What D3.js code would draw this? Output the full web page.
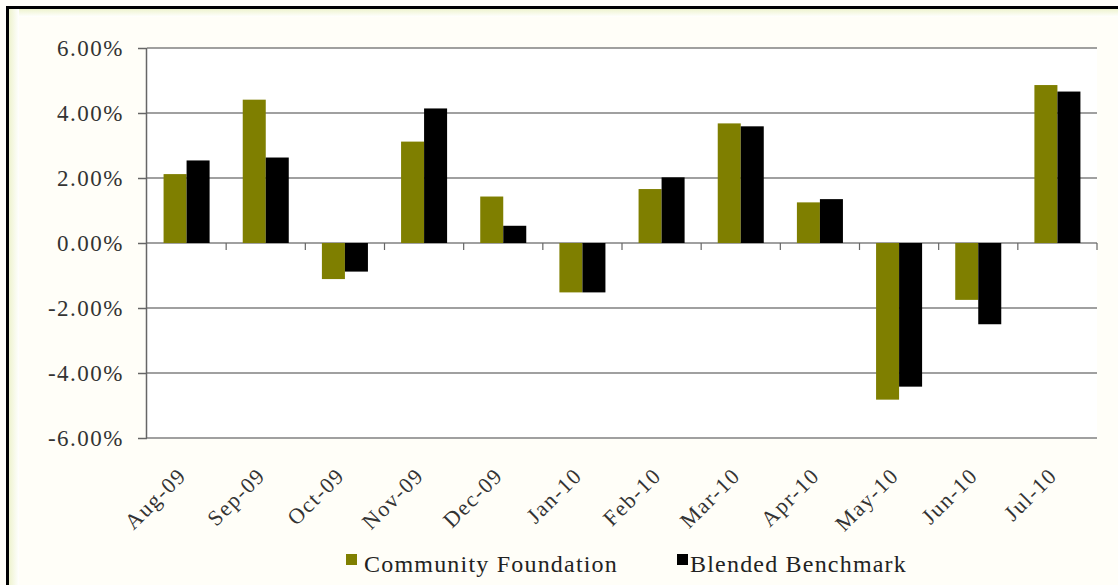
<!DOCTYPE html>
<html>
<head>
<meta charset="utf-8">
<script src="https://cdn.jsdelivr.net/npm/d3@7"></script>
<style>
  body { margin: 0; background: #ffffff; }
  svg { display: block; }
  .lbl { font-family: 'Liberation Serif', 'Times New Roman', serif; }
</style>
</head>
<body>
<div id="chart"></div>
<script>
const months = ["Aug-09", "Sep-09", "Oct-09", "Nov-09", "Dec-09", "Jan-10",
  "Feb-10", "Mar-10", "Apr-10", "May-10", "Jun-10", "Jul-10"];
const seriesNames = ["Community Foundation", "Blended Benchmark"];
const foundation = [2.12, 4.41, -1.11, 3.12, 1.43, -1.52, 1.66, 3.68, 1.25, -4.82, -1.75, 4.86];
const benchmark = [2.54, 2.63, -0.88, 4.14, 0.53, -1.52, 2.02, 3.59, 1.35, -4.42, -2.50, 4.66];
const yTicks = [-6, -4, -2, 0, 2, 4, 6];
const colors = ["#7f7f00", "#000000"];

const width = 1118, height = 585,
  margin = { top: 48, right: 21, bottom: 147, left: 147 };

const svg = d3.select("#chart").
  append("svg").
  attr("width", width).
  attr("height", height);

// frame: pale cream background, thick black edge on left and top
const defs = svg.append("defs");
const gl = defs.append("linearGradient").attr("id", "leftfade").
  attr("x1", "0%").attr("x2", "100%");
gl.append("stop").attr("offset", "0%").attr("stop-color", "#eef3cf");
gl.append("stop").attr("offset", "100%").attr("stop-color", "#ffffff");
const gt = defs.append("linearGradient").attr("id", "topfade").
  attr("x1", "0%").attr("x2", "0%").attr("y1", "0%").attr("y2", "100%");
gt.append("stop").attr("offset", "0%").attr("stop-color", "#eef3cf");
gt.append("stop").attr("offset", "100%").attr("stop-color", "#ffffff");

svg.append("rect").attr("width", width).attr("height", height).attr("fill", "#fffef8");
svg.append("rect").attr("x", 9).attr("y", 9).attr("width", width - 9).attr("height", 8).attr("fill", "url(#topfade)");
svg.append("rect").attr("x", 9).attr("y", 9).attr("width", 10).attr("height", height - 9).attr("fill", "url(#leftfade)");
svg.append("rect").attr("x", 6).attr("y", 6).attr("width", width - 6).attr("height", 3).attr("fill", "#000");
svg.append("rect").attr("x", 6).attr("y", 6).attr("width", 3).attr("height", height - 6).attr("fill", "#000");

const plotW = width - margin.left - margin.right,
  plotH = 438 - margin.top;

const g = svg.append("g").attr("transform", `translate(${margin.left},${margin.top})`);

g.append("rect").attr("x", 0).attr("y", 0).attr("width", plotW).attr("height", plotH + 1).attr("fill", "#ffffff");

const x0 = d3.scaleBand().domain(months).range([0, plotW]).padding(0);
const x1 = d3.scaleBand().domain(seriesNames).range([0, x0.bandwidth()]).paddingInner(0).paddingOuter(0.72);
const y = d3.scaleLinear().domain([-6, 6]).range([plotH, 0]);

// gridlines
g.append("g").selectAll("line").
  data(yTicks).
  enter().
  append("line").
  attr("x1", 0).
  attr("x2", plotW).
  attr("y1", d => y(d)).
  attr("y2", d => y(d)).
  attr("stroke", "#808080").
  attr("stroke-width", 1.5);

const rows = months.map((m, i) => ({ month: m, values: [foundation[i], benchmark[i]] }));

const groups = g.selectAll(".grp").
  data(rows).
  enter().
  append("g").
  attr("class", "grp").
  attr("transform", d => `translate(${x0(d.month)},0)`);

groups.selectAll("rect").
  data(d => d.values.map((v, k) => ({ key: seriesNames[k], v: v, k: k }))).
  enter().
  append("rect").
  attr("x", d => x1(d.key)).
  attr("width", x1.bandwidth()).
  attr("y", d => y(Math.max(0, d.v))).
  attr("height", d => Math.abs(y(d.v) - y(0))).
  attr("fill", d => colors[d.k]);

// y axis
const yAxis = g.append("g").
  call(d3.axisLeft(y).tickValues(yTicks).tickSize(9).tickPadding(14).
    tickFormat(d => d3.format(".2f")(d).replace("\u2212", "-") + "%"));
yAxis.select(".domain").attr("stroke", "#666").attr("stroke-width", 1.5).attr("d", `M-0.5,0V${plotH}`);
yAxis.selectAll(".tick line").attr("stroke", "#666").attr("stroke-width", 1.5);
yAxis.selectAll("text").
  attr("class", "lbl").
  style("font-size", "23px").
  style("letter-spacing", "1.5px").
  attr("fill", "#333");

// zero line tick marks at category boundaries
g.append("g").selectAll("line").
  data(months.slice(1).concat(["end"])).
  enter().
  append("line").
  attr("x1", (d, i) => x0.step() * (i + 1)).
  attr("x2", (d, i) => x0.step() * (i + 1)).
  attr("y1", y(0)).
  attr("y2", y(0) + 7).
  attr("stroke", "#666").
  attr("stroke-width", 1.2);

// x labels, rotated
g.append("g").selectAll("text").
  data(months).
  enter().
  append("text").
  attr("class", "lbl").
  attr("transform", d => `translate(${x0(d) + x0.bandwidth() / 2 - 10},${plotH + 28}) rotate(-45)`).
  attr("text-anchor", "end").
  attr("dy", "0.7em").
  style("font-size", "22px").
  style("letter-spacing", "1.5px").
  attr("fill", "#333").
  text(d => d);

// legend
const legend = svg.append("g").attr("transform", "translate(346,554)");
const legendX = [0, 331];
seriesNames.forEach((name, k) => {
  const item = legend.append("g").attr("transform", `translate(${legendX[k]},0)`);
  item.append("rect").attr("width", 11).attr("height", 11).attr("fill", colors[k]);
  item.append("text").
    attr("class", "lbl").
    attr("x", k === 0 ? 18 : 13).
    attr("y", 18).
    style("font-size", "24px").
    style("letter-spacing", "1.2px").
    attr("fill", "#222").
    text(name);
});
</script>
</body>
</html>
